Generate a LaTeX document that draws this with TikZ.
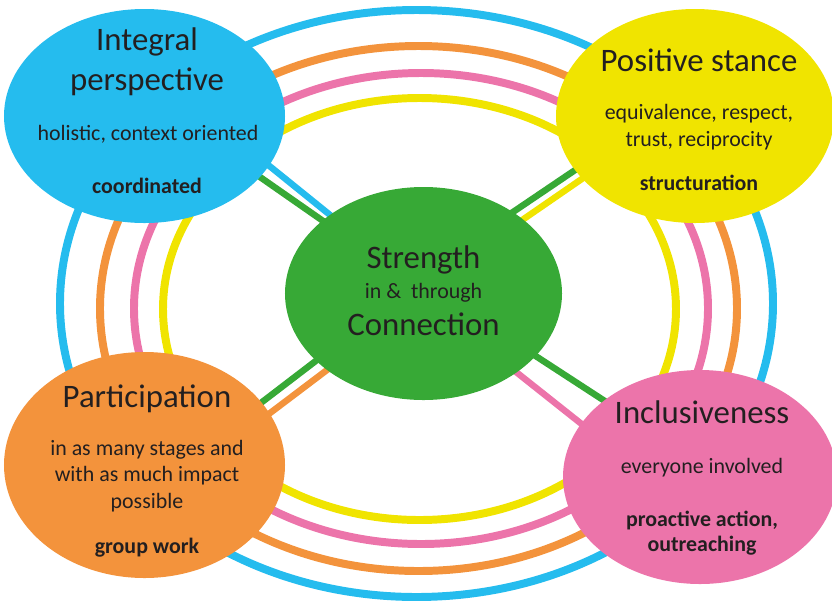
\documentclass[tikz,border=0pt]{standalone}
\usepackage{fontspec}
\setmainfont{Carlito}
\usepackage{xcolor}
\usetikzlibrary{shapes.geometric,calc}
\definecolor{ringblue}{HTML}{25BCEE}
\definecolor{ringorange}{HTML}{F3933C}
\definecolor{ringpink}{HTML}{EC74AA}
\definecolor{ringyellow}{HTML}{F0E400}
\definecolor{hubgreen}{HTML}{37A936}
\definecolor{textdark}{HTML}{231F20}
\pgfdeclarelayer{back}
\pgfsetlayers{back,main}

\begin{document}
\begin{tikzpicture}[
  x=0.03cm, y=-0.03cm,
  ring/.style={line width=6.8pt},
  link/.style={line width=5.5pt},
  blob/.style={ellipse, draw=none, inner sep=0pt, outer sep=0pt},
  head/.style={anchor=base, align=center, text=textdark, font=\fontsize{28}{34}\selectfont},
  note/.style={anchor=base, align=center, text=textdark, font=\fontsize{18.7}{22.5}\selectfont},
  key/.style={anchor=base, align=center, text=textdark, font=\fontsize{18.7}{20.5}\selectfont\bfseries}
]
  \useasboundingbox (0,0) rectangle (832,604);

  % rings, outermost first
  \draw[ring, ringblue] (416.5,303.5) ellipse [x radius=356.5, y radius=293.5];
  \draw[ring, ringorange] (418.5,308.5) ellipse [x radius=318.5, y radius=262.5];
  \draw[ring, ringpink] (421,308.5) ellipse [x radius=287, y radius=235.5];
  \draw[ring, ringyellow] (419.5,309) ellipse [x radius=256.5, y radius=211];

  % centre and the four corners
  \node[blob, fill=hubgreen, minimum width=8.31cm, minimum height=6.39cm] (hub) at (423.5,293.5) {};
  \node[blob, fill=ringblue, minimum width=8.43cm, minimum height=6.42cm] (persp) at (144.5,116) {};
  \node[blob, fill=ringyellow, minimum width=8.34cm, minimum height=6.42cm] (stance) at (695,116) {};
  \node[blob, fill=ringorange, minimum width=8.43cm, minimum height=6.78cm] (partic) at (144.5,465) {};
  \node[blob, fill=ringpink, minimum width=8.22cm, minimum height=6.42cm] (incl) at (700,477) {};

  % spokes, hidden under the ellipses at both ends
  \begin{pgfonlayer}{back}
    \draw[link, hubgreen] ($(hub)+(0,-2.5)$) -- ($(persp)+(0,-19.5)$);
    \draw[link, ringblue] ($(hub)+(0,-3)$) -- ($(persp)+(0,-51)$);
    \draw[link, hubgreen] ($(hub)+(0,-21)$) -- ($(stance)+(0,-27)$);
    \draw[link, ringyellow] ($(hub)+(0,-5.5)$) -- ($(stance)+(0,-15)$);
    \draw[link, hubgreen] ($(hub)+(0,-15)$) -- ($(partic)+(0,27)$);
    \draw[link, ringorange] ($(hub)+(0,3.5)$) -- ($(partic)+(0,43)$);
    \draw[link, hubgreen] ($(hub)+(0,-10.5)$) -- ($(incl)+(0,-14)$);
    \draw[link, ringpink] ($(hub)+(0,5)$) -- ($(incl)+(0,41)$);
  \end{pgfonlayer}

  % texts (base = baseline of the last line)
  \node[head] (hub-top) at ($(hub)+(0,-25.5)$) {Strength};
  \node[note] (hub-mid) at ($(hub)+(0,4.5)$) {in \& \ through};
  \node[head] (hub-bot) at ($(hub)+(0,41.5)$) {Connection};

  \node[head] (persp-head) at ($(persp)+(2.5,-26)$) {Integral\\perspective};
  \node[note] (persp-note) at ($(persp)+(3.5,24)$) {holistic, context oriented};
  \node[key] (persp-key) at ($(persp)+(2.5,77)$) {coordinated};

  \node[head] (stance-head) at ($(stance)+(4,-45)$) {Positive stance};
  \node[note] (stance-note) at ($(stance)+(4,30)$) {equivalence, respect,\\trust, reciprocity};
  \node[key] (stance-key) at ($(stance)+(4,74)$) {structuration};

  \node[head] (partic-head) at ($(partic)+(2.5,-58)$) {Participation};
  \node[note] (partic-note) at ($(partic)+(2.5,43)$) {in as many stages and\\with as much impact\\possible};
  \node[key] (partic-key) at ($(partic)+(2.5,88)$) {group work};

  \node[head] (incl-head) at ($(incl)+(2,-54)$) {Inclusiveness};
  \node[note] (incl-note) at ($(incl)+(2,-4)$) {everyone involved};
  \node[key] (incl-key) at ($(incl)+(2,74)$) {proactive action,\\outreaching};
\end{tikzpicture}
\end{document}
